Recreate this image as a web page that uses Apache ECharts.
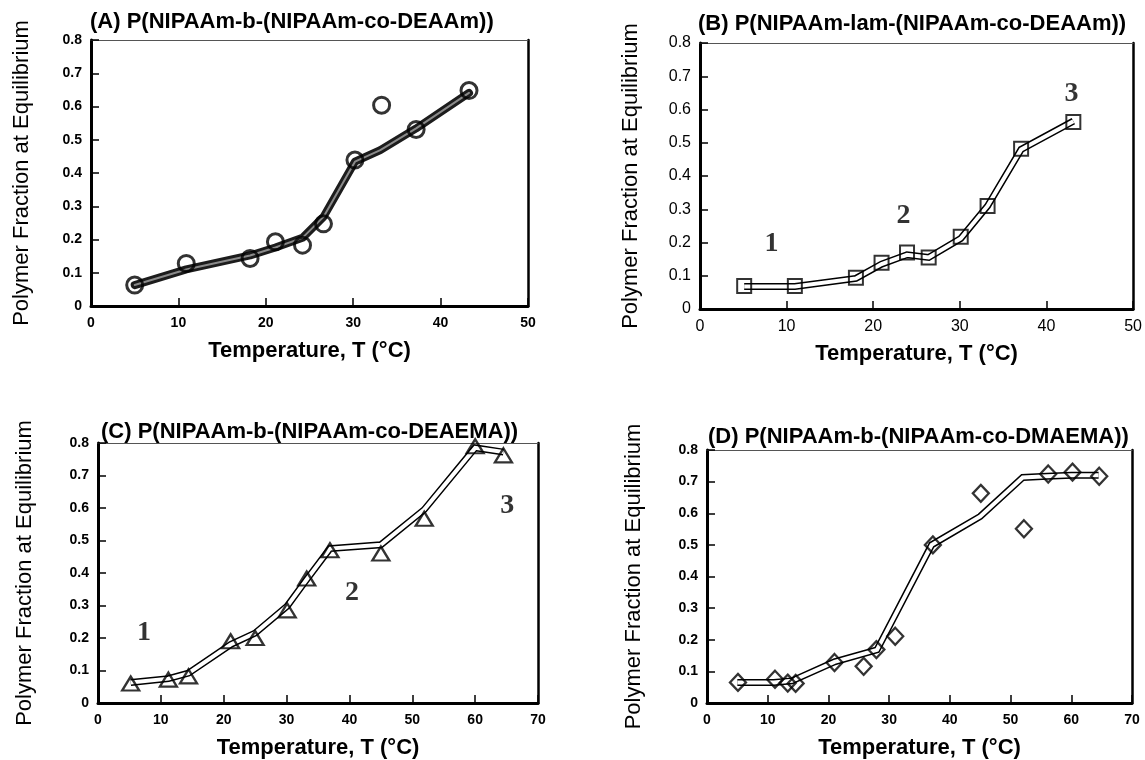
<!DOCTYPE html>
<html>
<head>
<meta charset="utf-8">
<script src="https://cdn.jsdelivr.net/npm/echarts@6/dist/echarts.min.js"></script>
<style>html,body{margin:0;padding:0;background:#fff;}#c{width:1145px;height:760px;}</style>
</head>
<body>
<div id="c"></div>
<script>
// ---- Data ----
const titles = [
  '(A) P(NIPAAm-b-(NIPAAm-co-DEAAm))',
  '(B) P(NIPAAm-lam-(NIPAAm-co-DEAAm))',
  '(C) P(NIPAAm-b-(NIPAAm-co-DEAEMA))',
  '(D) P(NIPAAm-b-(NIPAAm-co-DMAEMA))'
];
const yAxisTitle = 'Polymer Fraction at Equilibrium';
const xAxisTitle = 'Temperature, T (\u00B0C)';

const tempA = [5, 10.9, 18.2, 21.1, 24.2, 26.6, 30.2, 33.25, 37.2, 43.25];
const fracA = [0.063, 0.128, 0.143, 0.193, 0.183, 0.247, 0.439, 0.604, 0.531, 0.648];
const fitTempA = [5, 10.9, 18.2, 21.1, 24.2, 26.6, 30.2, 33.1, 37.2, 43.25];
const fitA = [0.063, 0.11, 0.152, 0.176, 0.205, 0.268, 0.434, 0.469, 0.534, 0.641];

const tempB = [5.1, 10.95, 18.0, 20.96, 23.9, 26.4, 30.1, 33.2, 37.07, 43.1];
const fracB = [0.069, 0.069, 0.094, 0.139, 0.17, 0.155, 0.217, 0.31, 0.482, 0.5625];
const fitTempB = [5.1, 10.95, 18.0, 20.96, 23.9, 26.4, 30.1, 33.2, 37.07, 43.1];
const fitB = [0.068, 0.068, 0.092, 0.135, 0.163, 0.155, 0.212, 0.31, 0.48, 0.565];
const annotB = [['1', 8.25, 0.195], ['2', 23.5, 0.279], ['3', 42.9, 0.648]];

const tempC = [5.2, 11.2, 14.4, 21.1, 25.0, 30.1, 33.2, 36.9, 45.0, 51.9, 60.0, 64.5];
const fracC = [0.06, 0.072, 0.082, 0.19, 0.20, 0.285, 0.383, 0.47, 0.46, 0.567, 0.79, 0.762];
const fitTempC = [5.2, 11.2, 14.4, 21.1, 25.0, 30.1, 33.2, 36.9, 45.0, 51.9, 60.0, 64.5];
const fitC = [0.063, 0.075, 0.092, 0.18, 0.215, 0.298, 0.38, 0.475, 0.487, 0.595, 0.785, 0.772];
const annotC = [['1', 7.3, 0.215], ['2', 40.4, 0.339], ['3', 65.1, 0.607]];

const tempD = [5.1, 11.2, 13.3, 14.6, 21.0, 25.8, 27.9, 31.0, 37.2, 45.1, 52.2, 56.2, 60.2, 64.6];
const fracD = [0.065, 0.075, 0.063, 0.062, 0.128, 0.116, 0.169, 0.211, 0.50, 0.663, 0.551, 0.724, 0.73, 0.717];
const fitTempD = [5, 11, 14, 21, 28, 37, 45, 52, 56, 60, 64.5];
const fitD = [0.065, 0.065, 0.07, 0.13, 0.168, 0.5, 0.59, 0.713, 0.717, 0.72, 0.72];

// ---- Layout / style ----
const SANS = 'Liberation Sans, Arial, sans-serif';
const SERIF = 'Liberation Serif, Times New Roman, serif';
const panels = [
  {grid:{left:91, top:40, width:437, height:266}, xmax:50, title:titles[0], tl:[85,6],
   pts:[tempA,fracA], fit:[fitTempA,fitA], sym:'circle', symSize:16, symW:3,
   tickBold:true, tickSize:14, lineStyle:'solid', yGap:58, ann:null},
  {grid:{left:700, top:43, width:435, height:266}, xmax:50, title:titles[1], tl:[693,8],
   pts:[tempB,fracB], fit:[fitTempB,fitB], sym:'rect', symSize:14, symW:2,
   tickBold:false, tickSize:16, lineStyle:'double', yGap:58, ann:annotB},
  {grid:{left:98, top:443, width:440, height:267}, xmax:70, title:titles[2], tl:[96,416],
   pts:[tempC,fracC], fit:[fitTempC,fitC], sym:'triangle', symSize:[17,14], symW:2.3,
   tickBold:true, tickSize:14, lineStyle:'double', yGap:62, ann:annotC},
  {grid:{left:707, top:450, width:425, height:257}, xmax:70, title:titles[3], tl:[703,421],
   pts:[tempD,fracD], fit:[fitTempD,fitD], sym:'diamond', symSize:[16,17], symW:2.3,
   tickBold:true, tickSize:14, lineStyle:'double', yGap:62, ann:null}
];

const option = {
  animation:false,
  backgroundColor:'#fff',
  title:[], grid:[], xAxis:[], yAxis:[], series:[]
};
const fmt = v => (Math.round(v*10)/10).toString();

panels.forEach((p, i) => {
  option.grid.push(Object.assign({containLabel:false}, p.grid));
  option.title.push({text:p.title, left:p.tl[0], top:p.tl[1],
    textStyle:{fontFamily:SANS, fontWeight:'bold', fontSize:22, color:'#000'}});
  const xi = option.xAxis.length;
  const yi = option.yAxis.length;
  const lbl = {fontFamily:SANS, fontWeight:p.tickBold?'bold':'normal', fontSize:p.tickSize, color:'#000'};
  // main bottom x axis
  option.xAxis.push({gridIndex:i, type:'value', min:0, max:p.xmax, interval:10, position:'bottom',
    name:xAxisTitle, nameLocation:'middle', nameGap:34,
    nameTextStyle:{fontFamily:SANS, fontWeight:'bold', fontSize:22, color:'#000'},
    axisLine:{onZero:false, lineStyle:{color:'#000', width:3}},
    axisTick:{inside:true, length:8, lineStyle:{color:'#000', width:1.5}},
    axisLabel:Object.assign({margin:10, formatter:fmt}, lbl),
    splitLine:{show:false}});
  // top border axis
  option.xAxis.push({gridIndex:i, type:'value', min:0, max:p.xmax, interval:10, position:'top',
    axisLine:{onZero:false, lineStyle:{color:'#555', width:1}},
    axisTick:{show:false}, axisLabel:{show:false}, splitLine:{show:false}});
  // main left y axis
  option.yAxis.push({gridIndex:i, type:'value', min:0, max:0.8, interval:0.1, position:'left',
    name:yAxisTitle, nameLocation:'middle', nameGap:p.yGap,
    nameTextStyle:{fontFamily:SANS, fontWeight:'normal', fontSize:22, color:'#000'},
    axisLine:{onZero:false, lineStyle:{color:'#000', width:3}},
    axisTick:{inside:true, length:8, lineStyle:{color:'#000', width:1.5}},
    axisLabel:Object.assign({margin:9, formatter:fmt}, lbl),
    splitLine:{show:false}});
  // right border axis
  option.yAxis.push({gridIndex:i, type:'value', min:0, max:0.8, interval:0.1, position:'right',
    axisLine:{onZero:false, lineStyle:{color:'#000', width:2.5}},
    axisTick:{show:false}, axisLabel:{show:false}, splitLine:{show:false}});

  const fitData = p.fit[0].map((x, k) => [x, p.fit[1][k]]);
  const ptData = p.pts[0].map((x, k) => [x, p.pts[1][k]]);
  if (p.lineStyle === 'solid') {
    option.series.push({type:'line', xAxisIndex:xi, yAxisIndex:yi, data:fitData, showSymbol:false,
      lineStyle:{color:'#1c1c1c', width:8, join:'round', cap:'round'}, z:2});
    option.series.push({type:'line', xAxisIndex:xi, yAxisIndex:yi, data:fitData, showSymbol:false,
      lineStyle:{color:'#8a8a8a', width:2, join:'round', cap:'round'}, z:3});
  } else {
    option.series.push({type:'line', xAxisIndex:xi, yAxisIndex:yi, data:fitData, showSymbol:false,
      lineStyle:{color:'#000', width:7, join:'miter', cap:'butt'}, z:2});
    option.series.push({type:'line', xAxisIndex:xi, yAxisIndex:yi, data:fitData, showSymbol:false,
      lineStyle:{color:'#fff', width:4, join:'miter', cap:'butt'}, z:3});
  }
  option.series.push({type:'scatter', xAxisIndex:xi, yAxisIndex:yi, data:ptData,
    symbol:p.sym, symbolSize:p.symSize,
    itemStyle:{color:'rgba(0,0,0,0)', borderColor:'#000', borderWidth:p.symW}, z:4});
  if (p.ann) {
    option.series.push({type:'scatter', xAxisIndex:xi, yAxisIndex:yi,
      data:p.ann.map(a => ({value:[a[1], a[2]], name:a[0]})), symbolSize:0,
      label:{show:true, position:'inside', formatter:'{b}',
        fontFamily:SERIF, fontWeight:'bold', fontSize:28, color:'#000'}, z:5});
  }
});

const chart = echarts.init(document.getElementById('c'), null, {renderer:'canvas'});
chart.setOption(option);
</script>
</body>
</html>
